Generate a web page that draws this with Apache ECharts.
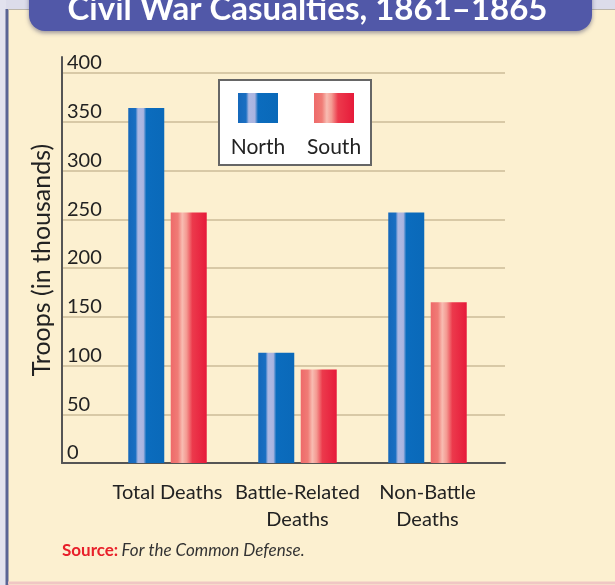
<!DOCTYPE html>
<html>
<head>
<meta charset="utf-8">
<script src="https://cdn.jsdelivr.net/npm/echarts@6/dist/echarts.min.js"></script>
<style>
  html, body { margin: 0; padding: 0; background: #dcdcea; }
  #chart { width: 615px; height: 585px; }
</style>
</head>
<body>
<div id="chart"></div>
<script>
// data (thousands of troops)
const categories = ['Total Deaths', 'Battle-Related\nDeaths', 'Non-Battle\nDeaths'];
const seriesNames = ['North', 'South'];
const northValues = [364, 113, 257];
const southValues = [257, 96, 165];
const yMin = 0;
const yTop = 400; // last labelled tick
const yStep = 50;

const FONT = 'Lato, "Liberation Sans", sans-serif';

const chart = echarts.init(document.getElementById('chart'));

// bar fills: shaded column with a pale highlight stripe
function northFill() {
  return new echarts.graphic.LinearGradient(0, 0, 1, 0, [
    { offset: 0, color: '#1568bb' },
    { offset: 0.2, color: '#1a6fc2' },
    { offset: 0.27, color: '#aeb8e2' },
    { offset: 0.42, color: '#aab4e0' },
    { offset: 0.5, color: '#0b6cbe' },
    { offset: 1, color: '#0a69b9' }
  ]);
}
function southFill() {
  return new echarts.graphic.LinearGradient(0, 0, 1, 0, [
    { offset: 0, color: '#ee6a6a' },
    { offset: 0.2, color: '#f07c76' },
    { offset: 0.32, color: '#f8bcb2' },
    { offset: 0.44, color: '#f49a92' },
    { offset: 0.6, color: '#ec3a4c' },
    { offset: 1, color: '#e61a3a' }
  ]);
}

// axis line runs a little above the 400 line
const gridTop = 57, gridBottom = 122;
const pxPerUnit = (585 - gridBottom - 73) / yTop;
const yMax = yTop + (73 - gridTop) / pxPerUnit;

const option = {
  backgroundColor: '#fcf0d0',
  animation: false,
  title: {
    text: 'Civil War Casualties, 1861–1865',
    left: 'center',
    top: -12,
    textStyle: { color: '#ffffff', fontSize: 33, fontWeight: 'bold', fontFamily: FONT }
  },
  grid: [
    // frame: gridlines and y axis
    { left: 62, right: 110, top: gridTop, bottom: gridBottom, outerBoundsMode: 'none' },
    // bars
    { left: 102.5, right: 122.5, top: gridTop, bottom: gridBottom, outerBoundsMode: 'none' }
  ],
  xAxis: [
    {
      gridIndex: 0, type: 'value', min: 0, max: 1,
      axisLine: { show: true, lineStyle: { color: '#555', width: 2 } },
      axisTick: { show: false }, axisLabel: { show: false }, splitLine: { show: false }
    },
    {
      gridIndex: 1, type: 'category', data: categories,
      axisLine: { show: false }, axisTick: { show: false },
      axisLabel: {
        interval: 0, hideOverlap: false,
        color: '#222', fontSize: 20, fontFamily: FONT, lineHeight: 27, margin: 16
      }
    }
  ],
  yAxis: [
    {
      gridIndex: 0, type: 'value', min: yMin, max: yMax, interval: yStep,
      name: 'Troops (in thousands)',
      nameLocation: 'middle', nameGap: 8,
      nameTextStyle: { color: '#222', fontSize: 25, fontFamily: FONT },
      axisLine: { show: true, lineStyle: { color: '#555', width: 2 } },
      axisTick: { show: false },
      axisLabel: {
        inside: true, showMaxLabel: false, align: 'left', verticalAlign: 'bottom',
        margin: 5, color: '#222', fontSize: 20, fontFamily: FONT
      },
      splitLine: { show: true, showMaxLine: false, lineStyle: { color: '#cdbd98', width: 1.5 } }
    },
    {
      gridIndex: 1, type: 'value', min: yMin, max: yMax,
      show: false, splitLine: { show: false }
    }
  ],
  series: [
    {
      name: seriesNames[0], type: 'bar', xAxisIndex: 1, yAxisIndex: 1,
      barWidth: 36, barGap: '18%',
      itemStyle: { color: northFill() },
      data: northValues
    },
    {
      name: seriesNames[1], type: 'bar', xAxisIndex: 1, yAxisIndex: 1,
      barWidth: 36, barGap: '18%',
      itemStyle: { color: southFill() },
      data: southValues
    }
  ],
  graphic: [
    // outer frame
    { type: 'rect', shape: { x: 0, y: 0, width: 615, height: 9 }, style: { fill: '#dcdcea' }, z: -1 },
    { type: 'rect', shape: { x: 0, y: 0, width: 6, height: 585 }, style: { fill: '#e2e2ee' }, z: -1 },
    { type: 'line', shape: { x1: 7, y1: 9, x2: 7, y2: 585 }, style: { stroke: '#5a6494', lineWidth: 3 }, z: -1 },
    { type: 'line', shape: { x1: 8, y1: 9.5, x2: 615, y2: 9.5 }, style: { stroke: '#bcb6aa', lineWidth: 1 }, z: -1 },
    { type: 'line', shape: { x1: 8, y1: 583, x2: 615, y2: 583 }, style: { stroke: '#f0c6c4', lineWidth: 3 }, z: -1 },
    // title banner
    {
      type: 'rect', shape: { x: 29, y: -20, width: 563, height: 51, r: 16 },
      style: { fill: '#5158a8', shadowBlur: 4, shadowColor: 'rgba(60,60,100,0.5)', shadowOffsetY: 2 },
      z: 1
    },
    // legend box
    {
      type: 'rect', shape: { x: 219, y: 80, width: 152, height: 85 },
      style: { fill: '#ffffff', stroke: '#666', lineWidth: 2 }, z: 10
    },
    { type: 'rect', shape: { x: 238, y: 93, width: 40, height: 30 }, style: { fill: northFill() }, z: 11 },
    { type: 'rect', shape: { x: 314, y: 93, width: 40, height: 30 }, style: { fill: southFill() }, z: 11 },
    {
      type: 'text', x: 258, y: 147, z: 11,
      style: { text: seriesNames[0], fill: '#222', font: '21px ' + FONT, align: 'center', verticalAlign: 'middle' }
    },
    {
      type: 'text', x: 334, y: 147, z: 11,
      style: { text: seriesNames[1], fill: '#222', font: '21px ' + FONT, align: 'center', verticalAlign: 'middle' }
    },
    // source note
    {
      type: 'text', x: 62, y: 551, z: 11,
      style: {
        text: '{a|Source:} {b|For the Common Defense.}',
        verticalAlign: 'middle',
        rich: {
          a: { fill: '#e8202a', fontWeight: 'bold', fontSize: 17, fontFamily: FONT },
          b: { fill: '#333', fontStyle: 'italic', fontSize: 17, fontFamily: FONT }
        }
      }
    }
  ]
};

chart.setOption(option);
</script>
</body>
</html>
